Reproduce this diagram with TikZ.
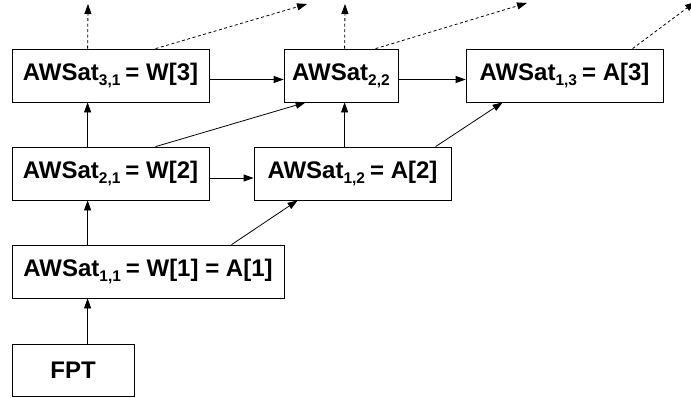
\documentclass[tikz,border=0pt]{standalone}
\usepackage{fontspec}
\setmainfont{Liberation Sans}
\usetikzlibrary{arrows.meta}
\newcommand{\awsubx}[1]{\raisebox{-0.4ex}{\fontsize{15.5}{15.5}\selectfont #1}}
\newcommand{\awsub}[1]{\awsubx{#1}\hspace{5pt}}
\begin{document}
\begin{tikzpicture}[x=1pt,y=-1pt,
  box/.style={draw,line width=0.8pt,minimum height=53pt,inner sep=0pt,
    font=\fontsize{24}{26}\selectfont\bfseries},
  arr/.style={line width=0.8pt,-{Triangle[length=10pt,width=7pt]}},
  darr/.style={arr,dash pattern=on 3pt off 2.5pt}]
\useasboundingbox (0,0) rectangle (691,397);
\node[box,minimum width=197pt] (W3) at (110.5,75.5) {AWSat\awsub{3,1}= W[3]};
\node[box,minimum width=197pt] (W2) at (110.5,173.5) {AWSat\awsub{2,1}= W[2]};
\node[box,minimum width=114pt] (A22) at (341,75.5) {AWSat\awsubx{2,2}};
\node[box,minimum width=197pt] (A12) at (352.5,173.5) {AWSat\awsub{1,2}= A[2]};
\node[box,minimum width=197pt] (A13) at (564.5,75.5) {AWSat\awsub{1,3}= A[3]};
\node[box,minimum width=272pt] (A11) at (148,271.5) {AWSat\awsub{1,1}= W[1] = A[1]};
\node[box,minimum width=122pt,minimum height=52pt] (FPT) at (73,370) {FPT};
\coordinate (t1) at (88,4);
\coordinate (t2) at (307,4);
\coordinate (t3) at (345,4);
\coordinate (t4) at (527,3);
\coordinate (t5) at (695,2);
% vertical solid
\draw[arr] ([xshift=76pt]FPT.north west) -- ([xshift=76pt]A11.south west);
\draw[arr] ([xshift=76pt]A11.north west) -- ([xshift=76pt]W2.south west);
\draw[arr] ([xshift=76pt]W2.north west) -- ([xshift=76pt]W3.south west);
\draw[arr] ([xshift=91pt]A12.north west) -- ([xshift=61pt]A22.south west);
% horizontal
\draw[arr] ([yshift=-4pt]W3.east) -- ([yshift=-4pt]A22.west);
\draw[arr] ([yshift=-4pt]A22.east) -- ([yshift=-4pt]A13.west);
\draw[arr] ([yshift=-4.5pt]W2.east) -- ([yshift=-4.5pt]A12.west);
% diagonals
\draw[arr] ([xshift=220pt]A11.north west) -- ([xshift=44pt]A12.south west);
\draw[arr] ([xshift=144pt]W2.north west) -- ([xshift=22pt]A22.south west);
\draw[arr] ([xshift=182pt]A12.north west) -- ([xshift=37pt]A13.south west);
% dashed
\draw[darr] ([xshift=76pt]W3.north west) -- (t1);
\draw[darr] ([xshift=144pt]W3.north west) -- (t2);
\draw[darr] ([xshift=61pt]A22.north west) -- (t3);
\draw[darr] ([xshift=92pt]A22.north west) -- (t4);
\draw[darr] ([xshift=167pt]A13.north west) -- (t5);
\end{tikzpicture}
\end{document}
